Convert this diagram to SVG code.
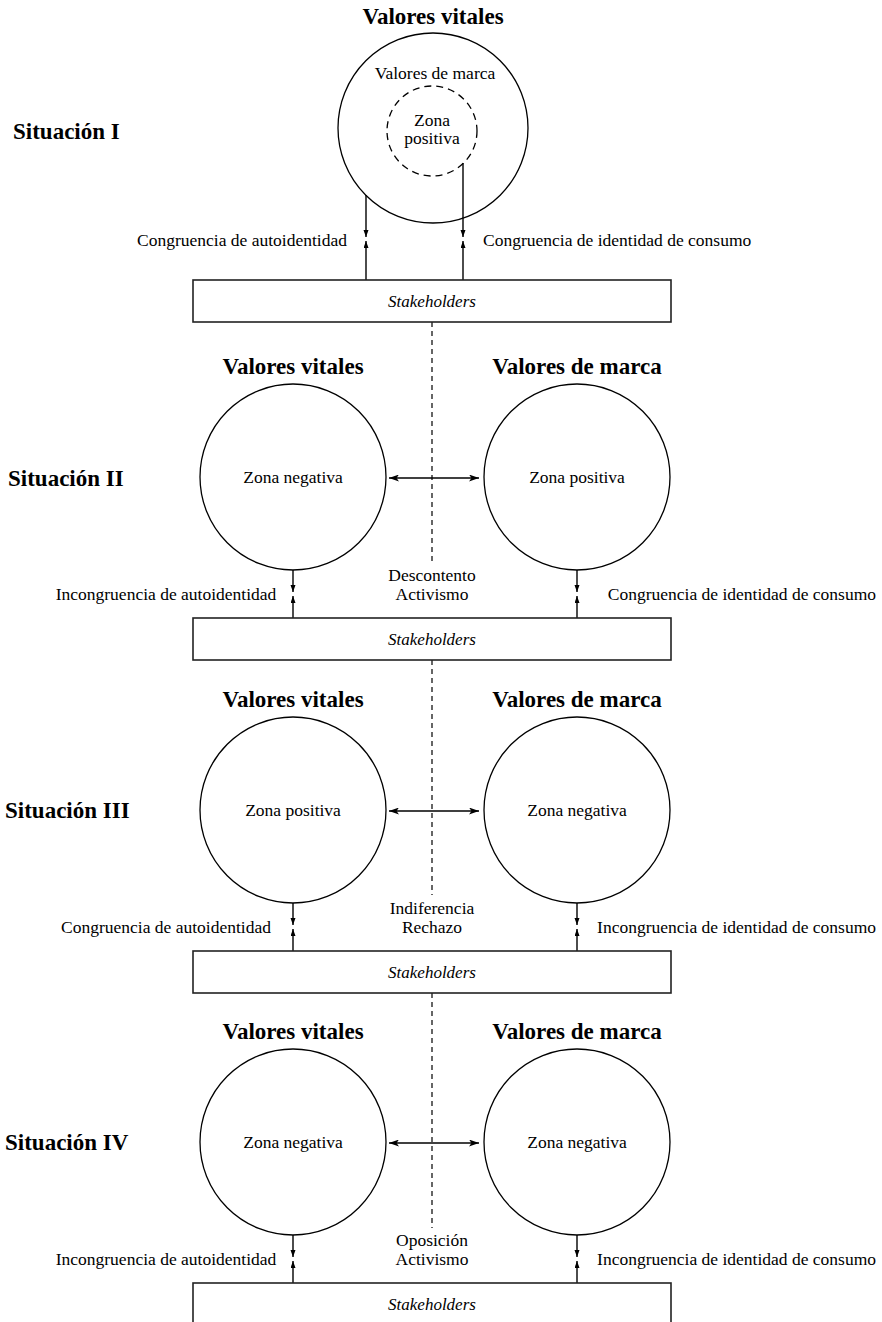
<svg xmlns="http://www.w3.org/2000/svg" width="882" height="1322" viewBox="0 0 882 1322">
<defs>
<style>
text{font-family:"Liberation Serif","Times New Roman",serif;fill:#000}
.t{font-size:17.5px}
.c{text-anchor:middle}
.e{text-anchor:end}
.b{font-size:23px;font-weight:bold}
.i{font-size:17px;font-style:italic;text-anchor:middle}
.circ{fill:none;stroke:#000;stroke-width:1.3}
.dc{fill:none;stroke:#000;stroke-width:1.3;stroke-dasharray:7 5}
.box{fill:#fff;stroke:#222;stroke-width:1.6}
.ln{stroke:#000;stroke-width:1.4;fill:none;marker-end:url(#ah)}
.dbl{stroke:#000;stroke-width:1.4;fill:none;marker-start:url(#bs);marker-end:url(#be)}
.dash{stroke:#000;stroke-width:1.2;stroke-dasharray:5 4}
</style>
<marker id="ah" markerUnits="userSpaceOnUse" markerWidth="8" markerHeight="6" refX="7" refY="2.5" orient="auto"><path d="M0,0 L7,2.5 L0,5 z" fill="#000"/></marker>
<marker id="be" markerUnits="userSpaceOnUse" markerWidth="11" markerHeight="8" refX="10" refY="3.5" orient="auto"><path d="M0,0 L10,3.5 L0,7 L2.5,3.5 z" fill="#000"/></marker>
<marker id="bs" markerUnits="userSpaceOnUse" markerWidth="11" markerHeight="8" refX="0" refY="3.5" orient="auto"><path d="M10,0 L0,3.5 L10,7 L7.5,3.5 z" fill="#000"/></marker>
</defs>

<g id="connectors">
<!-- Section I -->
<line class="ln" x1="366" y1="195" x2="366" y2="237"/>
<line class="ln" x1="366" y1="280" x2="366" y2="241"/>
<line class="ln" x1="463" y1="163" x2="463" y2="237"/>
<line class="ln" x1="463" y1="280" x2="463" y2="241"/>
<line class="dash" x1="432" y1="322" x2="432" y2="562"/>
<!-- Section II -->
<line class="dbl" x1="389" y1="478" x2="479" y2="478"/>
<line class="ln" x1="293" y1="570" x2="293" y2="592"/>
<line class="ln" x1="293" y1="618" x2="293" y2="596"/>
<line class="ln" x1="577" y1="570" x2="577" y2="592"/>
<line class="ln" x1="577" y1="618" x2="577" y2="596"/>
<line class="dash" x1="432" y1="660" x2="432" y2="895"/>
<!-- Section III -->
<line class="dbl" x1="389" y1="811" x2="479" y2="811"/>
<line class="ln" x1="293" y1="903" x2="293" y2="925"/>
<line class="ln" x1="293" y1="951" x2="293" y2="929"/>
<line class="ln" x1="577" y1="903" x2="577" y2="925"/>
<line class="ln" x1="577" y1="951" x2="577" y2="929"/>
<line class="dash" x1="432" y1="993" x2="432" y2="1228"/>
<!-- Section IV -->
<line class="dbl" x1="389" y1="1143" x2="479" y2="1143"/>
<line class="ln" x1="293" y1="1235" x2="293" y2="1257"/>
<line class="ln" x1="293" y1="1283" x2="293" y2="1261"/>
<line class="ln" x1="577" y1="1235" x2="577" y2="1257"/>
<line class="ln" x1="577" y1="1283" x2="577" y2="1261"/>
</g>

<!-- Section I -->
<text class="b c" x="433" y="24">Valores vitales</text>
<text class="b" x="13" y="139">Situación I</text>
<g id="s1-brand">
<circle class="circ" cx="433" cy="128" r="95"/>
<text class="t c" x="435" y="79">Valores de marca</text>
</g>
<g id="s1-zone">
<circle class="dc" cx="432" cy="131" r="45"/>
<text class="t c" x="432" y="126">Zona</text>
<text class="t c" x="432" y="144">positiva</text>
</g>
<text class="t e" x="347" y="246">Congruencia de autoidentidad</text>
<text class="t" x="483" y="246">Congruencia de identidad de consumo</text>
<g id="s1-stake">
<rect class="box" x="193" y="280" width="478" height="42"/>
<text class="i" x="432" y="307">Stakeholders</text>
</g>

<!-- Section II -->
<text class="b c" x="293" y="374">Valores vitales</text>
<text class="b c" x="577" y="374">Valores de marca</text>
<text class="b" x="8" y="486">Situación II</text>
<g id="s2-vital">
<circle class="circ" cx="293" cy="477" r="93"/>
<text class="t c" x="293" y="483">Zona negativa</text>
</g>
<g id="s2-brand">
<circle class="circ" cx="577" cy="477" r="93"/>
<text class="t c" x="577" y="483">Zona positiva</text>
</g>
<text class="t c" x="166" y="600">Incongruencia de autoidentidad</text>
<text class="t e" x="876" y="600">Congruencia de identidad de consumo</text>
<text class="t c" x="432" y="581">Descontento</text>
<text class="t c" x="432" y="600">Activismo</text>
<g id="s2-stake">
<rect class="box" x="193" y="618" width="478" height="42"/>
<text class="i" x="432" y="645">Stakeholders</text>
</g>

<!-- Section III -->
<text class="b c" x="293" y="707">Valores vitales</text>
<text class="b c" x="577" y="707">Valores de marca</text>
<text class="b" x="5" y="818">Situación III</text>
<g id="s3-vital">
<circle class="circ" cx="293" cy="810" r="93"/>
<text class="t c" x="293" y="816">Zona positiva</text>
</g>
<g id="s3-brand">
<circle class="circ" cx="577" cy="810" r="93"/>
<text class="t c" x="577" y="816">Zona negativa</text>
</g>
<text class="t c" x="166" y="933">Congruencia de autoidentidad</text>
<text class="t e" x="876" y="933">Incongruencia de identidad de consumo</text>
<text class="t c" x="432" y="914">Indiferencia</text>
<text class="t c" x="432" y="933">Rechazo</text>
<g id="s3-stake">
<rect class="box" x="193" y="951" width="478" height="42"/>
<text class="i" x="432" y="978">Stakeholders</text>
</g>

<!-- Section IV -->
<text class="b c" x="293" y="1039">Valores vitales</text>
<text class="b c" x="577" y="1039">Valores de marca</text>
<text class="b" x="5" y="1150">Situación IV</text>
<g id="s4-vital">
<circle class="circ" cx="293" cy="1142" r="93"/>
<text class="t c" x="293" y="1148">Zona negativa</text>
</g>
<g id="s4-brand">
<circle class="circ" cx="577" cy="1142" r="93"/>
<text class="t c" x="577" y="1148">Zona negativa</text>
</g>
<text class="t c" x="166" y="1265">Incongruencia de autoidentidad</text>
<text class="t e" x="876" y="1265">Incongruencia de identidad de consumo</text>
<text class="t c" x="432" y="1246">Oposición</text>
<text class="t c" x="432" y="1265">Activismo</text>
<g id="s4-stake">
<rect class="box" x="193" y="1283" width="478" height="42"/>
<text class="i" x="432" y="1310">Stakeholders</text>
</g>
</svg>
